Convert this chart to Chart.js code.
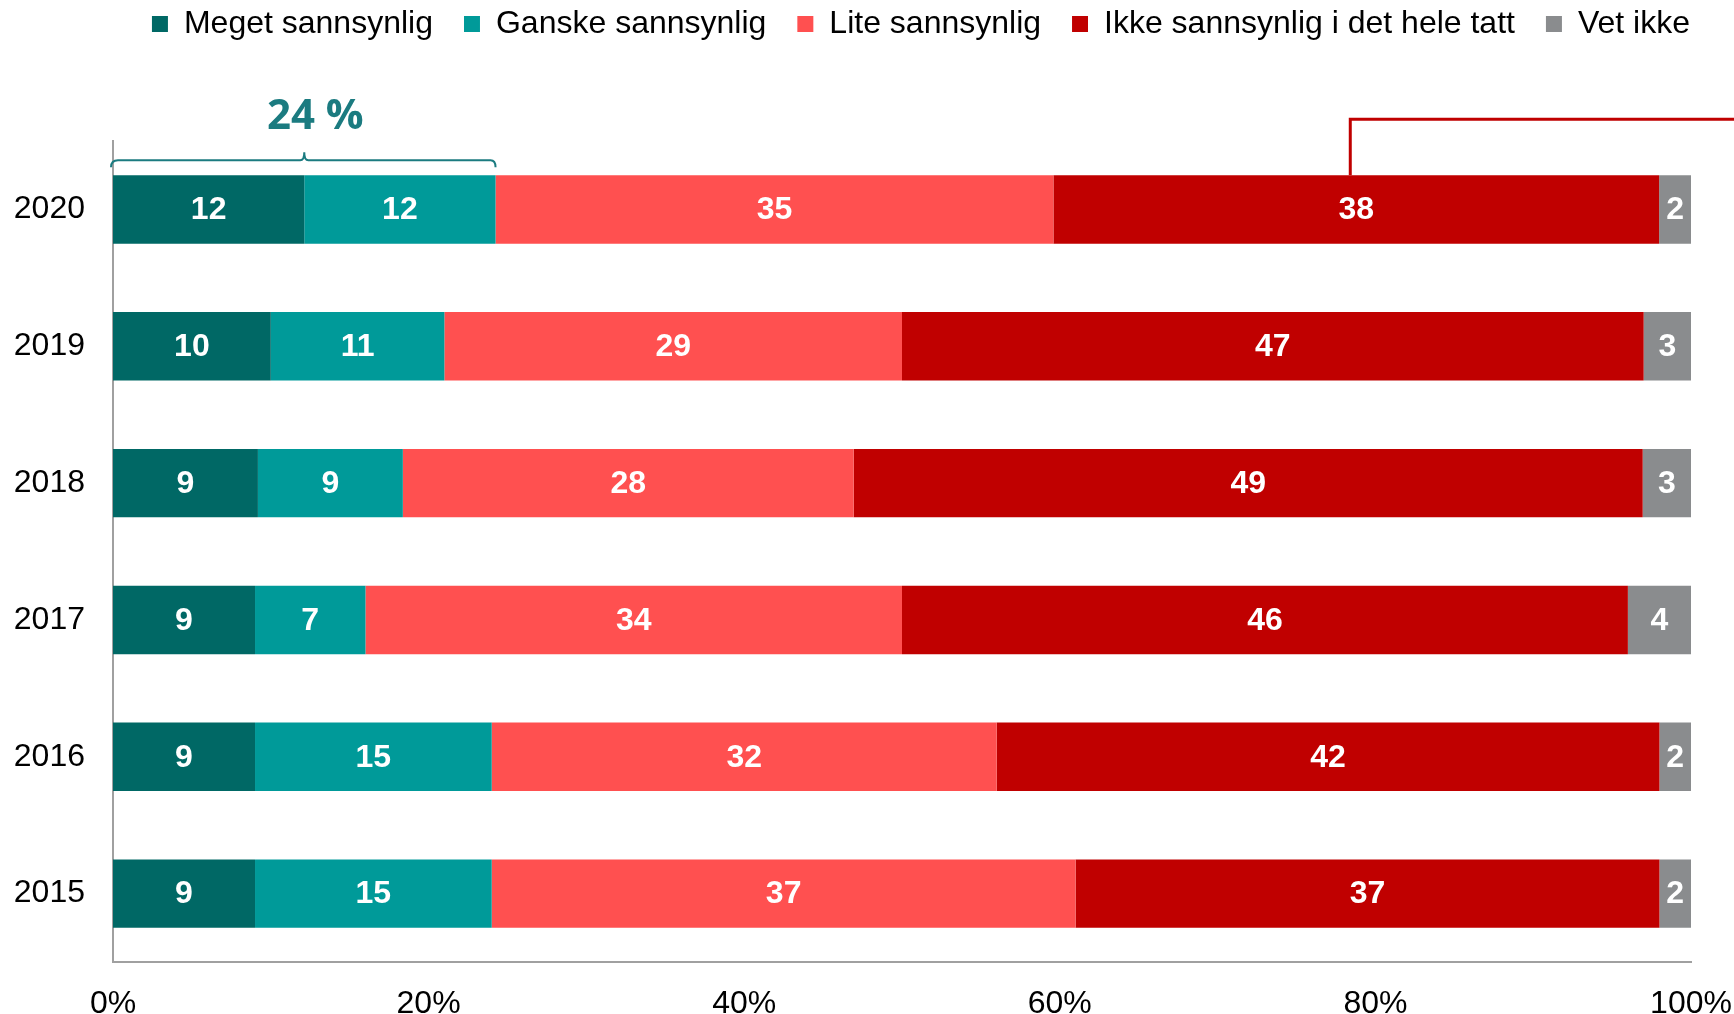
<!DOCTYPE html>
<html>
<head>
<meta charset="utf-8">
<script src="https://cdn.jsdelivr.net/npm/chart.js@4.4.0/dist/chart.umd.min.js"></script>
<style>
  html, body { margin: 0; padding: 0; background: #fff; }
  canvas { display: block; }
</style>
</head>
<body>
<canvas id="myChart" width="1734" height="1014"></canvas>
<script>
const years = ['2020', '2019', '2018', '2017', '2016', '2015'];
const meget = [12, 10, 9, 9, 9, 9];
const ganske = [12, 11, 9, 7, 15, 15];
const lite = [35, 29, 28, 34, 32, 37];
const ikke = [38, 47, 49, 46, 42, 37];
const vetIkke = [2, 3, 3, 4, 2, 2];
const seriesNames = ['Meget sannsynlig', 'Ganske sannsynlig', 'Lite sannsynlig', 'Ikke sannsynlig i det hele tatt', 'Vet ikke'];
const xTicks = [0, 20, 40, 60, 80, 100];

const FONT = "'Liberation Sans', Arial, sans-serif";
const colors = ['#006865', '#009a99', '#ff5050', '#c00000', '#8a8c8e'];

// 100 % stacked, like the original: each year is scaled to its own total
const series = [meget, ganske, lite, ikke, vetIkke];
const totals = years.map((y, i) => series.reduce((s, arr) => s + arr[i], 0));

// room between legend and plot
const legendSpace = {
    id: 'legendSpace',
    beforeInit(chart) {
        const fit = chart.legend.fit;
        chart.legend.fit = function () {
            fit.call(this);
            this.height = 164;
        };
    }
};

const valueLabels = {
    id: 'valueLabels',
    afterDatasetsDraw(chart) {
        const ctx = chart.ctx;
        ctx.save();
        ctx.font = 'bold 32px ' + FONT;
        ctx.fillStyle = '#ffffff';
        ctx.textAlign = 'center';
        ctx.textBaseline = 'middle';
        chart.data.datasets.forEach((ds, di) => {
            chart.getDatasetMeta(di).data.forEach((bar, i) => {
                ctx.fillText(ds.rawValues[i], (bar.x + bar.base) / 2, bar.y + 1);
            });
        });
        ctx.restore();
    }
};

const callouts = {
    id: 'callouts',
    afterDraw(chart) {
        const ctx = chart.ctx;
        const xs = chart.scales.x;
        const g = chart.getDatasetMeta(1).data[0];
        const left = xs.getPixelForValue(0);
        const right = g.x;
        const mid = (left + right) / 2;
        const barTop = g.y - g.height / 2;
        const by = barTop - 15;

        ctx.save();
        ctx.strokeStyle = '#1b7b80';
        ctx.lineWidth = 2;
        ctx.beginPath();
        ctx.moveTo(left - 2, by + 7);
        ctx.quadraticCurveTo(left - 2, by, left + 5, by);
        ctx.lineTo(mid - 4, by);
        ctx.quadraticCurveTo(mid, by, mid, by - 8);
        ctx.quadraticCurveTo(mid, by, mid + 4, by);
        ctx.lineTo(right - 5, by);
        ctx.quadraticCurveTo(right, by, right, by + 7);
        ctx.stroke();

        ctx.fillStyle = '#1b7b80';
        ctx.font = "bold 42px 'Open Sans', sans-serif";
        ctx.textAlign = 'center';
        ctx.textBaseline = 'middle';
        ctx.fillText((meget[0] + ganske[0]) + ' %', mid + 11, by - 43);

        const ik = chart.getDatasetMeta(3).data[0];
        const rx = (ik.x + ik.base) / 2 - 6;
        const ry = barTop - 56;
        ctx.strokeStyle = '#c00000';
        ctx.lineWidth = 3;
        ctx.beginPath();
        ctx.moveTo(rx, barTop);
        ctx.lineTo(rx, ry);
        ctx.lineTo(chart.width, ry);
        ctx.stroke();
        ctx.restore();
    }
};

const ctx = document.getElementById('myChart');
new Chart(ctx, {
    type: 'bar',
    data: {
        labels: years,
        datasets: series.map((arr, k) => ({
            label: seriesNames[k],
            data: arr.map((v, i) => v / totals[i] * 100),
            rawValues: arr,
            backgroundColor: colors[k],
            borderWidth: 0,
            categoryPercentage: 1,
            barPercentage: 0.5,
        })),
    },
    options: {
        indexAxis: 'y',
        responsive: false,
        animation: false,
        devicePixelRatio: 1,
        layout: {
            padding: { top: -23, left: 13, right: 13, bottom: 0 },
        },
        plugins: {
            tooltip: { enabled: false },
            legend: {
                position: 'top',
                align: 'end',
                labels: {
                    boxWidth: 16,
                    boxHeight: 16,
                    padding: 31,
                    color: '#000',
                    font: { size: 32, family: FONT },
                },
            },
        },
        scales: {
            x: {
                stacked: true,
                min: 0,
                max: 100,
                afterBuildTicks: (s) => { s.ticks = xTicks.map(v => ({ value: v })); },
                afterFit: (s) => { s.paddingRight = 43; s.height = 52; },
                grid: { display: false, drawTicks: false },
                border: { display: true, color: '#a0a0a0', width: 2 },
                ticks: {
                    padding: 26,
                    color: '#000',
                    font: { size: 32, family: FONT, lineHeight: 1 },
                    callback: (v) => v + '%',
                },
            },
            y: {
                stacked: true,
                afterFit: (s) => { s.width = 100; },
                grid: { display: false, drawTicks: false },
                border: { display: true, color: '#a0a0a0', width: 2 },
                ticks: {
                    padding: 28,
                    color: '#000',
                    font: { size: 32, family: FONT },
                },
            },
        },
    },
    plugins: [legendSpace, valueLabels, callouts],
});
</script>
</body>
</html>
